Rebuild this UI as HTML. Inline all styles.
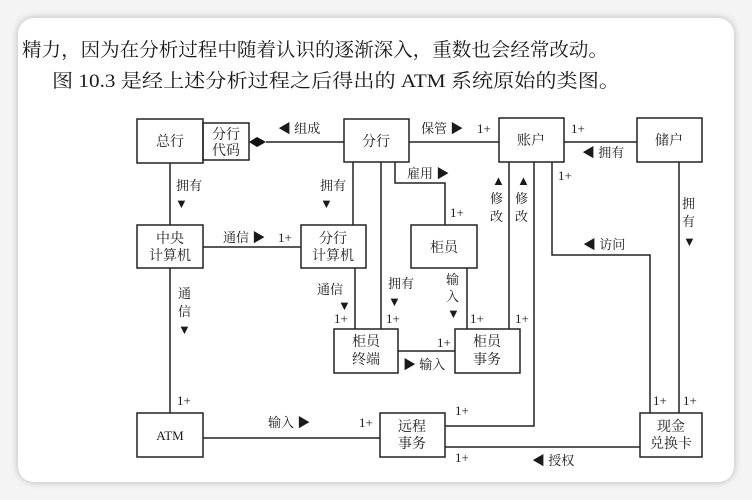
<!DOCTYPE html>
<html><head><meta charset="utf-8"><style>
html,body{margin:0;padding:0;background:#f4f4f4;}
.card{position:absolute;left:18px;top:18px;width:716px;height:464px;background:#fff;border-radius:16px;box-shadow:0 0 8px rgba(0,0,0,0.25);}
svg{position:absolute;left:0;top:0;}
text{font-family:"Liberation Serif","Noto Serif CJK SC",serif;fill:#1a1a1a;}
</style></head><body>
<div class="card"></div>
<svg width="752" height="500" viewBox="0 0 752 500">
<text x="22" y="56" font-size="19" textLength="586" lengthAdjust="spacingAndGlyphs">精力，因为在分析过程中随着认识的逐渐深入，重数也会经常改动。</text>
<text x="52" y="87" font-size="19" textLength="568" lengthAdjust="spacingAndGlyphs">图 10.3 是经上述分析过程之后得出的 ATM 系统原始的类图。</text>
<g stroke="#222" stroke-width="1.5" fill="none">
<rect x="137" y="119" width="66" height="44"/>
<rect x="203" y="123" width="46" height="37"/>
<rect x="344" y="119" width="65" height="43"/>
<rect x="499" y="118" width="65" height="44"/>
<rect x="637" y="118" width="65" height="44"/>
<rect x="137" y="225" width="66" height="43"/>
<rect x="301" y="225" width="65" height="43"/>
<rect x="411" y="225" width="66" height="43"/>
<rect x="334" y="329" width="64" height="44"/>
<rect x="455" y="329" width="65" height="44"/>
<rect x="137" y="413" width="66" height="44"/>
<rect x="380" y="413" width="65" height="44"/>
<rect x="640" y="413" width="62" height="44"/>
<path d="M266 142H344"/>
<path d="M409 142H499"/>
<path d="M564 142H637"/>
<path d="M170 163V225"/>
<path d="M170 268V413"/>
<path d="M203 247H301"/>
<path d="M353 162V225"/>
<path d="M355 268V329"/>
<path d="M381 162V329"/>
<path d="M395 162V183H445V225"/>
<path d="M467 268V329"/>
<path d="M509 162V329"/>
<path d="M534 162V426H445"/>
<path d="M552 162V255H650V413"/>
<path d="M679 162V413"/>
<path d="M398 351H455"/>
<path d="M203 438H380"/>
<path d="M445 447H640"/>
</g>
<polygon points="249,142 257,137 266,142 257,147" fill="#111"/>
<g font-size="14" text-anchor="middle">
<text x="170" y="146">总行</text>
<text x="226" y="139">分行</text><text x="226" y="155">代码</text>
<text x="376" y="146">分行</text>
<text x="531" y="145">账户</text>
<text x="669" y="145">储户</text>
<text x="170" y="243">中央</text><text x="170" y="260">计算机</text>
<text x="333" y="243">分行</text><text x="333" y="260">计算机</text>
<text x="444" y="252">柜员</text>
<text x="366" y="346">柜员</text><text x="366" y="364">终端</text>
<text x="487" y="346">柜员</text><text x="487" y="364">事务</text>
<text x="170" y="440" font-size="13">ATM</text>
<text x="412" y="431">远程</text><text x="412" y="448">事务</text>
<text x="671" y="431">现金</text><text x="671" y="448">兑换卡</text>
</g>
<g font-size="13">
<text x="278" y="133">◀ 组成</text>
<text x="421" y="133">保管 ▶</text><text x="477" y="133">1+</text>
<text x="571" y="133">1+</text>
<text x="582" y="157">◀ 拥有</text>
<text x="176" y="190">拥有</text><text x="175" y="208">▼</text>
<text x="320" y="190">拥有</text><text x="320" y="208">▼</text>
<text x="407" y="178">雇用 ▶</text>
<text x="450" y="217">1+</text>
<text x="492" y="185">▲</text><text x="490" y="203">修</text><text x="490" y="221">改</text>
<text x="517" y="185">▲</text><text x="515" y="203">修</text><text x="515" y="221">改</text>
<text x="558" y="180">1+</text>
<text x="583" y="249">◀ 访问</text>
<text x="682" y="208">拥</text><text x="682" y="226">有</text><text x="683" y="246">▼</text>
<text x="223" y="242">通信 ▶</text><text x="278" y="242">1+</text>
<text x="178" y="298">通</text><text x="178" y="316">信</text><text x="178" y="334">▼</text>
<text x="317" y="294">通信</text><text x="338" y="310">▼</text>
<text x="388" y="288">拥有</text><text x="388" y="306">▼</text>
<text x="446" y="284">输</text><text x="446" y="301">入</text><text x="447" y="318">▼</text>
<text x="334" y="323">1+</text><text x="386" y="323">1+</text>
<text x="470" y="323">1+</text><text x="515" y="323">1+</text>
<text x="437" y="347">1+</text>
<text x="403" y="369">▶ 输入</text>
<text x="177" y="405">1+</text>
<text x="268" y="427">输入 ▶</text>
<text x="359" y="427">1+</text>
<text x="455" y="415">1+</text>
<text x="455" y="462">1+</text>
<text x="532" y="465">◀ 授权</text>
<text x="653" y="405">1+</text><text x="683" y="405">1+</text>
</g>
</svg>
</body></html>
